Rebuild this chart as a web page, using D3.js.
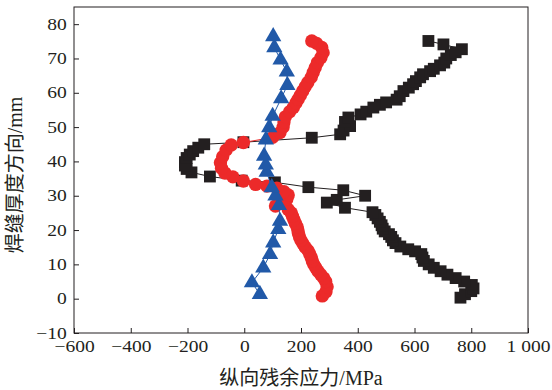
<!DOCTYPE html>
<html>
<head>
<meta charset="utf-8">
<script src="https://cdn.jsdelivr.net/npm/d3@7"></script>
<style>
  body { margin: 0; background: #fff; }
  svg { display: block; }
</style>
</head>
<body>
<script>
// tick values and labels
const xTicks = [-600, -400, -200, 0, 200, 400, 600, 800, 1000];
const xTickLabels = ["\u2212600", "\u2212400", "\u2212200", "0", "200", "400", "600", "800", "1 000"];
const yTicks = [-10, 0, 10, 20, 30, 40, 50, 60, 70, 80];
const yTickLabels = ["\u221210", "0", "10", "20", "30", "40", "50", "60", "70", "80"];

// black squares: depth (mm) and stress (MPa)
const squareDepth = [0.3, 1.3, 2.2, 3.0, 4.0, 5.0, 6.0, 7.0, 8.0, 9.0, 10.0, 11.0, 12.0, 13.0, 13.8, 14.4,
  15.2, 16.2, 17.0, 18.0, 18.8, 19.6, 20.4, 21.4, 22.4, 23.4, 24.4, 25.2, 26.5, 28.0, 28.8, 30.0, 31.6,
  32.5, 33.9, 34.4, 35.6, 36.8, 37.8, 38.8, 39.8, 41.0, 42.0, 43.0, 44.0, 45.0, 45.6, 46.9, 47.9, 49.0,
  50.3, 51.5, 52.8, 53.7, 54.5, 55.7, 56.5, 57.2, 58.0, 59.0, 60.5, 61.5, 62.5, 63.4, 64.5, 65.4, 66.3,
  67.0, 68.0, 68.8, 70.0, 71.0, 71.8, 72.7, 74.1, 75.1];
const squareStress = [762, 778, 800, 808, 802, 775, 745, 716, 692, 668, 650, 633, 628, 624, 602, 578,
  550, 533, 524, 518, 510, 495, 488, 484, 478, 470, 462, 452, 355, 291, 326, 426, 349,
  226, 108, -9, -121, -186, -203, -209, -209, -203, -192, -180, -162, -141, -3, 238, 338, 350,
  373, 355, 367, 410, 430, 455, 478, 500, 537, 548, 561, 580, 595, 605, 620, 630, 655,
  668, 690, 705, 712, 728, 745, 767, 702, 649];

// red circles
const circleDepth = [0.8, 2.0, 3.5, 5.0, 6.0, 7.0, 8.0, 9.0, 10.0, 11.0, 12.0, 13.0, 14.0, 15.0, 16.0,
  17.0, 18.0, 19.0, 20.0, 21.0, 22.0, 23.0, 24.0, 25.0, 26.0, 27.0, 28.0, 29.0, 30.2, 31.2, 32.2, 32.8,
  33.3, 34.3, 35.5, 36.6, 38.0, 39.6, 41.4, 43.3, 44.8, 45.5, 47.0, 48.4, 50.0, 51.5, 53.0, 54.5, 55.7,
  57.0, 58.1, 59.3, 60.5, 61.8, 63.0, 64.5, 65.9, 67.3, 68.8, 70.2, 71.7, 73.2, 74.4, 75.1];
const circleStress = [275, 288, 292, 287, 280, 270, 260, 252, 245, 240, 236, 231, 225, 215, 207,
  200, 195, 191, 189, 186, 180, 175, 170, 166, 155, 110, 125, 150, 155, 140, 115, 80,
  40, -3, -40, -68, -80, -84, -76, -64, -46, -3, 100, 126, 137, 140, 145, 160, 173,
  182, 190, 198, 206, 215, 224, 236, 243, 250, 258, 270, 278, 273, 255, 238];

// blue triangles
const triangleDepth = [1.3, 4.7, 9.0, 12.9, 16.3, 20.2, 22.6, 27.2, 30.0, 32.4, 36.9, 39.0, 41.6,
  46.3, 49.9, 53.2, 58.3, 62.2, 66.1, 69.6, 73.2, 76.4];
const triangleStress = [55, 27, 67, 91, 102, 120, 126, 122, 110, 97, 79, 76, 70,
  76, 88, 100, 130, 152, 150, 128, 106, 102];

const INK = "#231f20";
const RED = "#ec2a2a";
const BLUE = "#2159a8";

const width = 552, height = 390;
const plot = { left: 74, right: 528, top: 7, bottom: 333 };

const svg = d3.select("body").append("svg")
  .attr("width", width)
  .attr("height", height);

const x = d3.scaleLinear().domain([-600, 1000]).range([plot.left, plot.right]);
const y = d3.scaleLinear().domain([-10, 85]).range([plot.bottom, plot.top]);

const tickFont = "'Liberation Serif', 'Times New Roman', serif";

// axes, ticks pointing inward
const xAxis = svg.append("g")
  .attr("transform", `translate(0,${plot.bottom})`)
  .call(d3.axisBottom(x)
    .tickValues(xTicks)
    .tickFormat((d, i) => xTickLabels[i])
    .tickSizeInner(-5)
    .tickSizeOuter(0)
    .tickPadding(8));
xAxis.select(".domain").remove();
xAxis.selectAll(".tick line").attr("stroke", INK);
xAxis.selectAll(".tick text")
  .attr("fill", INK)
  .style("font-family", tickFont)
  .style("font-size", "16px")
  .attr("transform", "scale(1.22,1)");

const yAxis = svg.append("g")
  .attr("transform", `translate(${plot.left},0)`)
  .call(d3.axisLeft(y)
    .tickValues(yTicks)
    .tickFormat((d, i) => yTickLabels[i])
    .tickSizeInner(-5)
    .tickSizeOuter(0)
    .tickPadding(6));
yAxis.select(".domain").remove();
yAxis.selectAll(".tick line").attr("stroke", INK);
yAxis.selectAll(".tick text")
  .attr("fill", INK)
  .style("font-family", tickFont)
  .style("font-size", "16px")
  .attr("transform", "scale(1.22,1)");

// frame
svg.append("rect")
  .attr("x", plot.left)
  .attr("y", plot.top)
  .attr("width", plot.right - plot.left)
  .attr("height", plot.bottom - plot.top)
  .attr("fill", "none")
  .attr("stroke", INK)
  .attr("stroke-width", 1);

// series
function series(depth, stress, color, symbolType, size) {
  const pts = depth.map((d, i) => [stress[i], d]);
  const g = svg.append("g");
  g.append("path")
    .datum(pts)
    .attr("fill", "none")
    .attr("stroke", color)
    .attr("stroke-width", 1)
    .attr("d", d3.line().x(d => x(d[0])).y(d => y(d[1])));
  g.selectAll("path.mark")
    .data(pts)
    .join("path")
    .attr("class", "mark")
    .attr("transform", d => `translate(${x(d[0])},${y(d[1])})`)
    .attr("d", d3.symbol().type(symbolType).size(size))
    .attr("fill", color);
}

series(squareDepth, squareStress, INK, d3.symbolSquare, 140);
series(circleDepth, circleStress, RED, d3.symbolCircle, 140);
series(triangleDepth, triangleStress, BLUE, d3.symbolTriangle, 115);

// axis titles
const titleFont = "'Liberation Serif', 'Noto Sans CJK SC', serif";
svg.append("text")
  .attr("x", (plot.left + plot.right) / 2)
  .attr("y", 385)
  .attr("text-anchor", "middle")
  .attr("fill", INK)
  .style("font-family", titleFont)
  .style("font-size", "20px")
  .text("纵向残余应力/MPa");

svg.append("text")
  .attr("transform", "translate(22,175) rotate(-90)")
  .attr("text-anchor", "middle")
  .attr("fill", INK)
  .style("font-family", titleFont)
  .style("font-size", "20px")
  .text("焊缝厚度方向/mm");
</script>
</body>
</html>
